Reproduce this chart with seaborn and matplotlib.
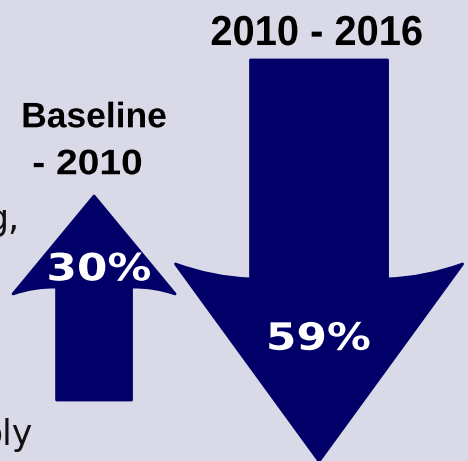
import numpy as np
import matplotlib
matplotlib.use("Agg")
import matplotlib.pyplot as plt
import seaborn as sns
from matplotlib.path import Path
from matplotlib.patches import PathPatch
from matplotlib.patheffects import AbstractPathEffect
from matplotlib.transforms import Affine2D

# --- data -------------------------------------------------------------
periods = ["Baseline\n- 2010", "2010 - 2016"]
pct_change = [30, -59]
change_labels = ["30%", "59%"]
side_words = ["g,", "ply"]

# --- styling / layout -------------------------------------------------
NAVY = "#000068"
BG = "#d9d9e8"
arrow_start = [0, 50]            # level each arrow's tail sits at
shaft_w = [0.333, 0.609]
head_w = [0.72, 1.276]
head_len = [13.4, 26.8]
wing_sweep = [1.0, 2.2]
wing_sag = [0.3, 0.45]
period_size = [25.5, 30.2]
period_baselines = [[40.1, 33.2], [52.2]]
period_dx = [[0.0, -0.029], [-0.012]]
period_stretch = [[1.0, 1.1], [0.95]]
value_baseline = [17.6, 7.4]
value_dx = [0.022, -0.002]
value_size = 27
value_stretch = 1.17

sns.set_theme(style="white", rc={"figure.facecolor": BG, "axes.facecolor": BG})
plt.rcParams["font.family"] = ["DejaVu Sans"]


class HStretch(AbstractPathEffect):
    """Scale each rendered text line horizontally about its own centre."""

    def __init__(self, sx):
        super().__init__()
        self.sx = sx

    def draw_path(self, renderer, gc, tpath, affine, rgbFace=None):
        ext = tpath.get_extents(affine)
        cx = 0.5 * (ext.x0 + ext.x1)
        t = affine + Affine2D().translate(-cx, 0).scale(self.sx, 1).translate(cx, 0)
        renderer.draw_path(gc, tpath, t, rgbFace)


def arrow_path(xc, y0, delta, sw, hw, hl, sweep, sag):
    d = np.sign(delta)
    tip = y0 + delta
    yj = tip - d * hl            # head meets the shaft
    yc = yj - d * sweep          # swept-back wing corners
    L, R = xc - sw / 2, xc + sw / 2
    WL, WR = xc - hw / 2, xc + hw / 2

    def ctrl(xa, ya, xb, yb):
        return ((xa + xb) / 2, (ya + yb) / 2 + d * 2 * sag)

    verts = [(L, y0), (L, yj), ctrl(L, yj, WL, yc), (WL, yc), (xc, tip),
             (WR, yc), ctrl(WR, yc, R, yj), (R, yj), (R, y0), (L, y0)]
    codes = [Path.MOVETO, Path.LINETO, Path.CURVE3, Path.CURVE3, Path.LINETO,
             Path.LINETO, Path.CURVE3, Path.CURVE3, Path.LINETO, Path.CLOSEPOLY]
    return Path(verts, codes)


fig = plt.figure(figsize=(4.68, 4.61), dpi=100)
ax = fig.add_axes([0, 0, 1, 1])
ax.set_xlim(-0.418, 1.662)
ax.set_ylim(-8.97, 58.82)
ax.set_axis_off()

for i, (period, change, label) in enumerate(zip(periods, pct_change, change_labels)):
    path = arrow_path(i, arrow_start[i], change, shaft_w[i], head_w[i],
                      head_len[i], wing_sweep[i], wing_sag[i])
    ax.add_patch(PathPatch(path, facecolor=NAVY, edgecolor=NAVY, lw=2,
                           joinstyle="round"))

    ax.text(i + value_dx[i], value_baseline[i], label, ha="center",
            va="baseline", color="white", fontsize=value_size, fontweight="bold",
            family=["DejaVu Sans"], path_effects=[HStretch(value_stretch)])

    lines = period.split("\n")
    for line, yb, dx, sx in zip(lines, period_baselines[i], period_dx[i],
                                period_stretch[i]):
        ax.text(i + dx, yb, line, ha="center", va="baseline", color="black",
                fontsize=period_size[i], fontweight="bold",
                family=["Liberation Sans", "DejaVu Sans"],
                path_effects=[HStretch(sx)])

# fragments of the neighbouring text column, running in from the left edge
ax.text(-0.333, 25.0, side_words[0], ha="right", va="baseline",
        fontsize=25, color="#111111")
ax.text(-0.271, -6.6, side_words[1], ha="right", va="baseline",
        fontsize=25, color="#111111")

fig.savefig("out.png", dpi=100, facecolor=BG)
